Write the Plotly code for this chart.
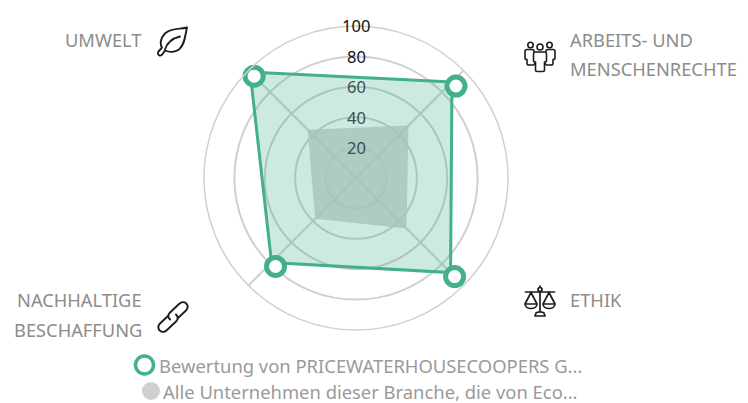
import base64
import math
import plotly.graph_objects as go

W, H = 748, 403
CX, CY, R = 356, 178, 152

# Data
tick_values = [20, 40, 60, 80, 100]
tick_labels = ["20", "40", "60", "80", "100"]
tick_colors = ["#3c514a", "#3c514a", "#3c514a", "#111111", "#111111"]
spoke_angles = [45, 135, 225, 315]
company_values = [89.3, 88, 78.6, 98.5]
sector_values = [48.8, 47, 38, 45]
legend_company = "Bewertung von PRICEWATERHOUSECOOPERS G..."
legend_sector = "Alle Unternehmen dieser Branche, die von Eco..."
left_labels = [("UMWELT", 39), ("NACHHALTIGE", 299), ("BESCHAFFUNG", 329)]
right_labels = [("ARBEITS- UND", 39), ("MENSCHENRECHTE", 69), ("ETHIK", 299)]

GREEN = "#42b089"
LABEL = "#8c8c8c"
FONT = "Noto Sans"
MARKER_OFFSET_PX = 4  # the reference draws its markers a few pixels right of and below the vertices


def px(x):
    return x / W


def py(y):
    return 1 - y / H


def closed(v):
    return list(v) + [v[0]]


def offset_point(value, angle):
    a = math.radians(angle)
    x = value / 100 * R * math.sin(a) + MARKER_OFFSET_PX
    y = value / 100 * R * math.cos(a) - MARKER_OFFSET_PX
    return math.hypot(x, y) / R * 100, math.degrees(math.atan2(x, y)) % 360


marker_pts = [offset_point(v, a) for v, a in zip(company_values, spoke_angles)]

fig = go.Figure()

fig.add_trace(go.Scatterpolar(
    r=closed(sector_values), theta=closed(spoke_angles),
    mode="lines", line=dict(width=0, color="rgba(204,204,204,0)"),
    fill="toself", fillcolor="rgba(204,204,204,0.8)",
    hoverinfo="skip", showlegend=False,
))
fig.add_trace(go.Scatterpolar(
    r=closed(company_values), theta=closed(spoke_angles),
    mode="lines", line=dict(width=3, color=GREEN),
    fill="toself", fillcolor="rgba(66,176,137,0.27)",
    hoverinfo="skip", showlegend=False,
))
fig.add_trace(go.Scatterpolar(
    r=[p[0] for p in marker_pts], theta=[p[1] for p in marker_pts],
    mode="markers",
    marker=dict(size=18, color="white", line=dict(width=5, color=GREEN)),
    hoverinfo="skip", showlegend=False,
))

annotations = []
for text, value, color in zip(tick_labels, tick_values, tick_colors):
    annotations.append(dict(text=text, x=px(CX), y=py(CY - R * value / 100),
                            xref="paper", yref="paper", xanchor="center", yanchor="middle",
                            showarrow=False, font=dict(family=FONT, size=16.5, color=color)))
for text, y in left_labels:
    annotations.append(dict(text=text, x=px(143.5), y=py(y), xref="paper", yref="paper",
                            xanchor="right", yanchor="middle", showarrow=False,
                            font=dict(family=FONT, size=18.3, color=LABEL)))
for text, y in right_labels:
    annotations.append(dict(text=text, x=px(568), y=py(y), xref="paper", yref="paper",
                            xanchor="left", yanchor="middle", showarrow=False,
                            font=dict(family=FONT, size=18.3, color=LABEL)))
for text, x, y in [(legend_company, 157, 365), (legend_sector, 161, 391)]:
    annotations.append(dict(text=text, x=px(x), y=py(y), xref="paper", yref="paper",
                            xanchor="left", yanchor="middle", showarrow=False,
                            font=dict(family=FONT, size=18.4, color="#9a9a9a")))


def circle(cx, cy, r, **kw):
    return dict(type="circle", xref="paper", yref="paper",
                x0=px(cx - r), x1=px(cx + r), y0=py(cy + r), y1=py(cy - r), **kw)


shapes = [
    circle(144.5, 365, 9, fillcolor="white", line=dict(color=GREEN, width=3.5)),
    circle(151, 391, 9, fillcolor="#cfcfcf", line=dict(width=0)),
]

STROKE = 'fill="none" stroke="#1d1d1d" stroke-linecap="round" stroke-linejoin="round"'
leaf = f'''<svg xmlns="http://www.w3.org/2000/svg" viewBox="0 0 32 32"><g {STROKE} stroke-width="1.9">
<path d="M30 2 C24 4 14 2 8 8 C3 13 3 19 5 22 L1.5 26 C0.5 27.5 1 29.5 2.5 30 C4 30.5 5 29.5 6 28 L8 25 C12 27 18 27 22 24 C28 19 28 10 30 2 Z"/>
<path d="M8 24 C10 17 15 13 23 11"/></g></svg>'''
link = f'''<svg xmlns="http://www.w3.org/2000/svg" viewBox="0 0 32 32"><g {STROKE} stroke-width="1.9">
<path d="M11 15 L3 22.5 C0.5 25 1 28 3 29.8 C5 31.5 8 31 10 29 L19.5 20 C21.5 17.5 21 15.5 19 13.5"/>
<path d="M21 17 L29 9.5 C31.5 7 31 4 29 2.2 C27 0.5 24 1 22 3 L12.5 12 C10.5 14.5 11 16.5 13 18.5"/></g></svg>'''
people = f'''<svg xmlns="http://www.w3.org/2000/svg" viewBox="0 0 32 32"><g {STROKE} stroke-width="1.6">
<circle cx="6.5" cy="4" r="2.7"/><circle cx="16" cy="6" r="3"/><circle cx="25.5" cy="4" r="2.7"/>
<path d="M10 11 L10 10 C10 9 9 8.5 8 8.5 L3 8.5 C1.5 8.5 1 9.5 1 10.5 L1 17 C1 18 2 18.5 3 18.5 L3 22.5 C3 23.5 4 24 5 24 L9 24 C10 24 10.5 23.5 10.5 22.5"/>
<path d="M22 11 L22 10 C22 9 23 8.5 24 8.5 L29 8.5 C30.5 8.5 31 9.5 31 10.5 L31 17 C31 18 30 18.5 29 18.5 L29 22.5 C29 23.5 28 24 27 24 L23 24 C22 24 21.5 23.5 21.5 22.5"/>
<path d="M11.5 11 L20.5 11 C22 11 22.5 12 22.5 13 L22.5 19.5 C22.5 20.5 21.5 21 20.5 21 L20.5 29 C20.5 30 19.5 30.5 19 30.5 L13 30.5 C12.5 30.5 11.5 30 11.5 29 L11.5 21 C10.5 21 9.5 20.5 9.5 19.5 L9.5 13 C9.5 12 10 11 11.5 11 Z"/></g></svg>'''
scales = f'''<svg xmlns="http://www.w3.org/2000/svg" viewBox="0 0 32 32"><g {STROKE} stroke-width="1.7">
<circle cx="16" cy="4.5" r="2"/><path d="M16 1 L16 2.5 M1.5 7 L30.5 7 M16 6.5 L16 26"/>
<path d="M11 31 L21 31 L20 28 C19 26.5 13 26.5 12 28 Z"/>
<path d="M7 7.5 L1 19 M7 7.5 L13 19 M1 19 C1 25 13 25 13 19 Z"/>
<path d="M25 7.5 L19 19 M25 7.5 L31 19 M19 19 C19 25 31 25 31 19 Z"/></g></svg>'''


def icon(svg, left, top, size):
    uri = "data:image/svg+xml;base64," + base64.b64encode(svg.encode()).decode()
    return dict(source=uri, xref="paper", yref="paper", x=px(left), y=py(top),
                sizex=size / W, sizey=size / H, xanchor="left", yanchor="top",
                sizing="stretch", layer="above")


images = [
    icon(leaf, 157, 25.5, 32),
    icon(people, 524, 41, 32),
    icon(link, 157, 301, 32),
    icon(scales, 524, 285, 32),
]

fig.update_layout(
    width=W, height=H, autosize=False,
    margin=dict(l=0, r=0, t=0, b=0),
    paper_bgcolor="white", plot_bgcolor="white",
    showlegend=False,
    annotations=annotations, shapes=shapes, images=images,
    polar=dict(
        domain=dict(x=[px(CX - R), px(CX + R)], y=[py(CY + R), py(CY - R)]),
        bgcolor="white",
        radialaxis=dict(range=[0, 100], tickvals=tick_values, showticklabels=False,
                        ticks="", showline=False, gridcolor="#d0d0d0", gridwidth=1.5),
        angularaxis=dict(direction="clockwise", rotation=90, tickmode="array",
                         tickvals=spoke_angles, showticklabels=False, ticks="",
                         showline=True, linecolor="#d0d0d0", linewidth=1.5,
                         gridcolor="#d0d0d0", gridwidth=1.5),
    ),
)

fig.write_html("out.html", config=dict(displayModeBar=False),
               post_script="document.body.style.margin='0';document.documentElement.style.overflow='hidden';")
